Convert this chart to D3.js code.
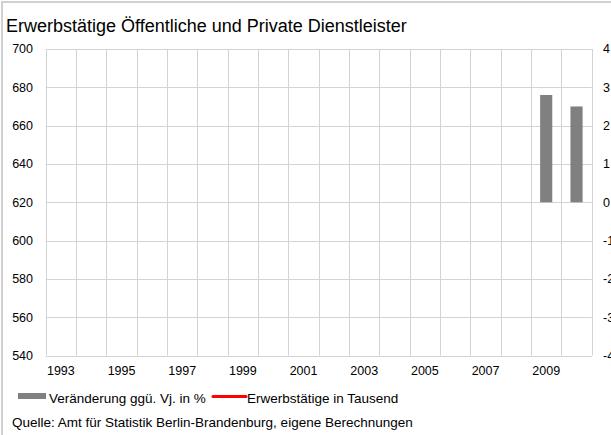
<!DOCTYPE html>
<html><head><meta charset="utf-8">
<script src="https://cdn.jsdelivr.net/npm/d3@7"></script>
<style>
html,body{margin:0;padding:0;background:#fff;}
svg{display:block;font-family:"Liberation Sans",Arial,sans-serif;}
</style></head>
<body>
<svg id="chart" width="611" height="435"></svg>
<script>
// ---- data ----
const years = [1993,1994,1995,1996,1997,1998,1999,2000,2001,2002,2003,2004,2005,2006,2007,2008,2009,2010];
const veraenderung = [null,null,null,null,null,null,null,null,null,null,null,null,null,null,null,null,2.8,2.5];
const erwerbstaetige = [null,null,null,null,null,null,null,null,null,null,null,null,null,null,null,null,null,null];
const xTickLabels = [1993,1995,1997,1999,2001,2003,2005,2007,2009];
const leftTicks = [540,560,580,600,620,640,660,680,700];
const rightTicks = [-4,-3,-2,-1,0,1,2,3,4];
const title = "Erwerbstätige Öffentliche und Private Dienstleister";
const legendItems = ["Veränderung ggü. Vj. in %", "Erwerbstätige in Tausend"];
const source = "Quelle: Amt für Statistik Berlin-Brandenburg, eigene Berechnungen";

// ---- layout ----
const svg = d3.select("#chart");
const L = 45.7, R = 591.7, T = 49, B = 355.5;
const gridColor = "#d3d3d3";

// frame
svg.append("rect").attr("x",2).attr("y",2).attr("width",640).attr("height",460)
  .attr("fill","none").attr("stroke","#d0d0d0").attr("stroke-width",2);

const x = d3.scaleBand().domain(years).range([L,R]).paddingInner(0).paddingOuter(0);
const yL = d3.scaleLinear().domain([540,700]).range([B,T]);
const yR = d3.scaleLinear().domain([-4,4]).range([B,T]);

// title
svg.append("text").attr("x",6).attr("y",32).attr("font-size",18).attr("fill","#000").text(title);

// gridlines horizontal
svg.append("g").selectAll("line").data(leftTicks).join("line")
  .attr("x1",L).attr("x2",R).attr("y1",d=>Math.round(yL(d))+0.5).attr("y2",d=>Math.round(yL(d))+0.5)
  .attr("stroke",gridColor).attr("stroke-width",1);
// gridlines vertical (band boundaries)
const vb = years.map(d=>x(d)).concat([R]);
svg.append("g").selectAll("line").data(vb).join("line")
  .attr("x1",d=>Math.round(d)+0.5).attr("x2",d=>Math.round(d)+0.5).attr("y1",T).attr("y2",B)
  .attr("stroke",gridColor).attr("stroke-width",1);

// left axis labels
svg.append("g").selectAll("text").data(leftTicks).join("text")
  .attr("x",33).attr("y",d=>yL(d)).attr("dy","0.35em").attr("text-anchor","end")
  .attr("font-size",12.5).attr("fill","#000").text(d=>d);
// right axis labels
svg.append("g").selectAll("text").data(rightTicks).join("text")
  .attr("x",603).attr("y",d=>yR(d)).attr("dy","0.35em").attr("text-anchor","start")
  .attr("font-size",12.5).attr("fill","#000").text(d=>d);
// x labels
svg.append("g").selectAll("text").data(xTickLabels).join("text")
  .attr("x",d=>x(d)+x.bandwidth()/2).attr("y",375).attr("text-anchor","middle")
  .attr("font-size",12.5).attr("fill","#000").text(d=>d);

// bars
const bw = x.bandwidth()*0.4;
svg.append("g").selectAll("rect").data(years.map((y,i)=>({y,v:veraenderung[i]})).filter(d=>d.v!=null)).join("rect")
  .attr("x",d=>x(d.y)+(x.bandwidth()-bw)/2).attr("width",bw)
  .attr("y",d=>yR(Math.max(0,d.v))).attr("height",d=>Math.abs(yR(d.v)-yR(0)))
  .attr("fill","#808080");

// line (no visible data)
const line = d3.line().defined(d=>d.v!=null).x(d=>x(d.y)+x.bandwidth()/2).y(d=>yL(d.v));
svg.append("path").datum(years.map((y,i)=>({y,v:erwerbstaetige[i]})))
  .attr("d",line).attr("fill","none").attr("stroke","#ff0000").attr("stroke-width",3);

// legend
const lg = svg.append("g");
lg.append("rect").attr("x",18).attr("y",393).attr("width",28).attr("height",6).attr("fill","#808080");
lg.append("text").attr("x",49).attr("y",403).attr("font-size",13.5).attr("fill","#000").text(legendItems[0]);
lg.append("line").attr("x1",213).attr("x2",246).attr("y1",396.5).attr("y2",396.5).attr("stroke","#ff0000").attr("stroke-width",3).attr("stroke-linecap","round");
lg.append("text").attr("x",247).attr("y",403).attr("font-size",13.5).attr("fill","#000").text(legendItems[1]);

// source
svg.append("text").attr("x",12).attr("y",427).attr("font-size",13.5).attr("fill","#000").text(source);
</script>
</body></html>
